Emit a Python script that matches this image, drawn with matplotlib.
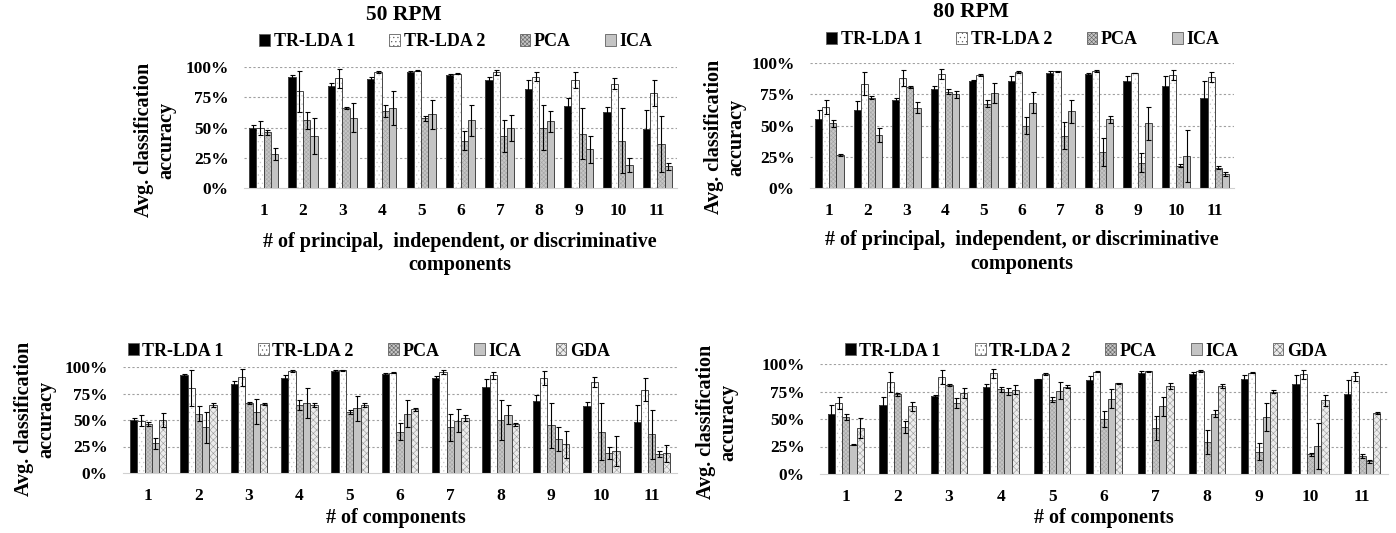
import numpy as np
import matplotlib.pyplot as plt
from matplotlib.patches import Patch

plt.rcParams['font.family'] = ['Liberation Serif', 'DejaVu Serif']
plt.rcParams['font.weight'] = 'bold'
plt.rcParams['hatch.linewidth'] = 0.4

groups = [str(i) for i in range(1, 12)]
series = ['TR-LDA 1', 'TR-LDA 2', 'PCA', 'ICA', 'GDA']
yticks = [0, 25, 50, 75, 100]

# 50 RPM (mean %, error %)
tr1_50 = [50, 92, 84, 90, 96, 93, 89.5, 81.5, 68, 63, 48.5]
tr1_50_err = [2, 1, 3, 2, 1, 1, 2, 7.5, 6, 4, 16]
tr2_50 = [49.5, 80, 90.5, 96, 97, 94.5, 95.5, 92, 89.5, 86, 78.5]
tr2_50_err = [5.5, 17, 8, 1, 0.5, 0.5, 2, 3.5, 6.5, 4.5, 11]
pca_50 = [46, 56, 66, 64, 57.5, 39, 43, 50, 45, 39, 36.5]
pca_50_err = [2, 7, 1, 5, 2, 8, 13, 19, 21, 27, 23]
ica_50 = [28, 43, 58, 66, 61, 56, 49.5, 55, 32, 19, 18]
ica_50_err = [5, 15, 12, 14, 12, 13, 11, 9, 11, 6, 3]
gda_50 = [50, 64, 64.7, 64, 64, 60, 52, 46, 27, 20.6, 18.7]
gda_50_err = [7, 2, 1, 2, 2, 1.5, 3, 1.5, 12.5, 14, 8]

# 80 RPM
tr1_80 = [55, 62.7, 70.5, 79, 86, 85.5, 92, 91, 86, 81.8, 72.4]
tr1_80_err = [7.5, 7, 1.5, 2.5, 0.7, 4, 1.3, 1.3, 4, 8, 13]
tr2_80 = [64.6, 83.6, 88, 91.4, 90.6, 93, 93.3, 93.8, 92, 90.6, 89]
tr2_80_err = [5.5, 9, 6.5, 4, 1, 0.7, 0.5, 0.7, 0.3, 4, 4]
pca_80 = [51.7, 72.4, 81, 77, 67.6, 50, 42, 29, 20.4, 18, 16.4]
pca_80_err = [3, 1.5, 0.7, 2, 2.5, 7, 11, 11, 7.5, 1.5, 1.5]
ica_80 = [26.5, 42.6, 64.3, 75, 75.9, 68.4, 61.4, 55, 51.7, 25.7, 11.5]
ica_80_err = [0.5, 5.5, 4.5, 3, 8, 8.7, 9, 3, 13, 21, 1.5]
gda_80 = [42, 61.6, 73.8, 76.5, 79.3, 82.3, 80, 80, 75, 67, 55.8]
gda_80_err = [9, 4, 4.5, 4, 1.5, 0.5, 2.5, 1.5, 1.3, 5, 1]

# face, hatch, hatch colour
styles = {
    'TR-LDA 1': ('black', None, 'black'),
    'TR-LDA 2': ('white', '....', '#c8c8c8'),
    'PCA': ('#c6c6c6', 'xxxxxxxx', '#a4a4a4'),
    'ICA': ('#c4c4c4', None, '#c4c4c4'),
    'GDA': ('#ececec', 'xxxxx', '#9a9a9a'),
}

W, H = 1396, 533
fig = plt.figure(figsize=(W / 100, H / 100), dpi=100)


def px_axes(left, top, right, bottom):
    return fig.add_axes([left / W, 1 - bottom / H, (right - left) / W, (bottom - top) / H])


def panel(ax, data, width):
    n = len(data)
    x = np.arange(len(groups))
    for i, (name, vals, errs) in enumerate(data):
        face, hatch, hc = styles[name]
        pos = x + (i - (n - 1) / 2) * width
        ax.bar(pos, vals, width, color=face, hatch=hatch, edgecolor=hc, linewidth=0, zorder=2)
        ax.bar(pos, vals, width, fill=False, edgecolor='#454545', linewidth=0.7, zorder=3)
        ax.errorbar(pos, vals, yerr=errs, fmt='none', ecolor='black', elinewidth=0.8,
                    capsize=1.8, capthick=0.8, zorder=4)
    ax.set_xlim(-0.5, len(groups) - 0.5)
    ax.set_ylim(0, 100)
    ax.set_xticks(x)
    ax.set_xticklabels(groups, fontsize=12.5, fontweight='bold')
    ax.set_yticks(yticks)
    ax.set_yticklabels(['%d%%' % v for v in yticks], fontsize=12.5, fontweight='bold')
    ax.tick_params(axis='both', length=0, pad=11)
    for v in yticks[1:]:
        ax.axhline(v, color='#a0a0a0', lw=0.8, ls=(0, (2, 2)), zorder=1)
    for s in ['top', 'right', 'left']:
        ax.spines[s].set_visible(False)
    ax.spines['bottom'].set_color('#d0d0d0')


def legend(names, cx, cy):
    handles = []
    for name in names:
        face, hatch, hc = styles[name]
        handles.append(Patch(facecolor=face, hatch=hatch, edgecolor='#606060', linewidth=0.6))
    fig.legend(handles, names, loc='center', bbox_to_anchor=(cx / W, 1 - cy / H), ncol=len(names),
               frameon=False, prop={'size': 13, 'weight': 'bold'}, handlelength=0.6,
               handleheight=0.6, handletextpad=0.2, columnspacing=1.9)


ylab = 'Avg. classification\naccuracy'
lab_kw = dict(fontsize=14.5, fontweight='bold', ha='center', va='center', multialignment='center')
title_kw = dict(fontsize=15.5, fontweight='bold', ha='center', va='center')

# top left: 50 RPM
ax1 = px_axes(244, 67, 677, 188)
panel(ax1, [('TR-LDA 1', tr1_50, tr1_50_err), ('TR-LDA 2', tr2_50, tr2_50_err),
            ('PCA', pca_50, pca_50_err), ('ICA', ica_50, ica_50_err)], 0.185)
fig.text(404 / W, 1 - 15 / H, '50 RPM', **title_kw)
legend(series[:4], 456, 42)
fig.text(155 / W, 1 - 140 / H, ylab, rotation=90, **lab_kw)
fig.text(460 / W, 1 - 253 / H, '# of principal,  independent, or discriminative\ncomponents', **lab_kw)

# top right: 80 RPM
ax2 = px_axes(810, 63, 1234, 188)
panel(ax2, [('TR-LDA 1', tr1_80, tr1_80_err), ('TR-LDA 2', tr2_80, tr2_80_err),
            ('PCA', pca_80, pca_80_err), ('ICA', ica_80, ica_80_err)], 0.185)
fig.text(971 / W, 1 - 12 / H, '80 RPM', **title_kw)
legend(series[:4], 1023, 40)
fig.text(725 / W, 1 - 137 / H, ylab, rotation=90, **lab_kw)
fig.text(1022 / W, 1 - 252 / H, '# of principal,  independent, or discriminative\ncomponents', **lab_kw)

# bottom left
ax3 = px_axes(123, 367, 677, 473)
panel(ax3, [('TR-LDA 1', tr1_50, tr1_50_err), ('TR-LDA 2', tr2_50, tr2_50_err),
            ('PCA', pca_50, pca_50_err), ('ICA', ica_50, ica_50_err), ('GDA', gda_50, gda_50_err)], 0.145)
legend(series, 369, 351)
fig.text(35 / W, 1 - 419 / H, ylab, rotation=90, **lab_kw)
fig.text(396 / W, 1 - 518 / H, '# of components', **lab_kw)

# bottom right
ax4 = px_axes(820, 364, 1388, 474)
panel(ax4, [('TR-LDA 1', tr1_80, tr1_80_err), ('TR-LDA 2', tr2_80, tr2_80_err),
            ('PCA', pca_80, pca_80_err), ('ICA', ica_80, ica_80_err), ('GDA', gda_80, gda_80_err)], 0.14)
legend(series, 1086, 351)
fig.text(717 / W, 1 - 422 / H, ylab, rotation=90, **lab_kw)
fig.text(1104 / W, 1 - 518 / H, '# of components', **lab_kw)

fig.savefig('out.png', dpi=100)
